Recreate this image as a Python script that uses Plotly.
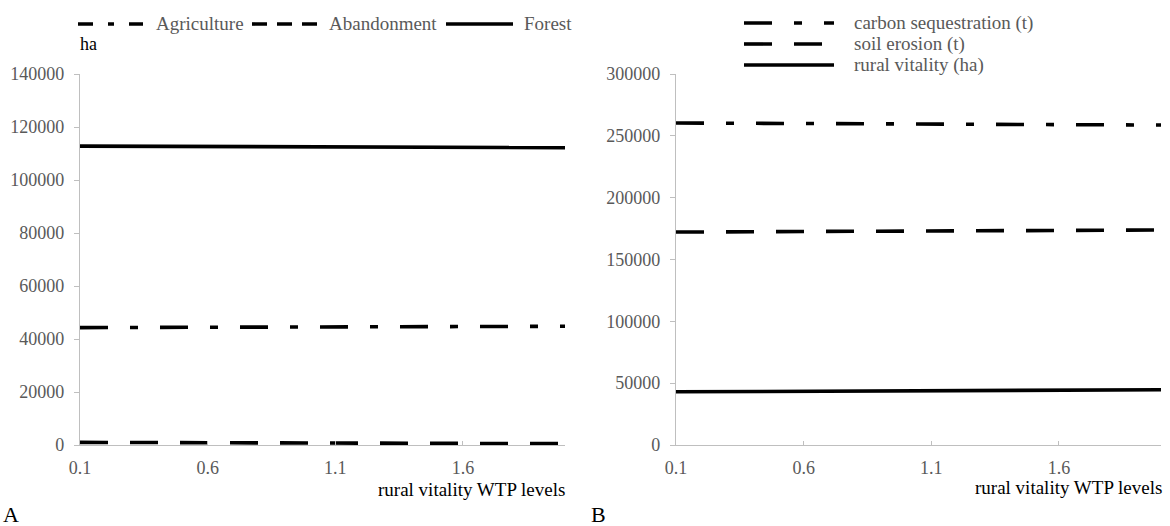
import plotly.graph_objects as go

# ---------------- data ----------------
wtp_levels = [round(0.1 * i, 1) for i in range(1, 21)]  # 0.1 ... 2.0
x_tick_vals = [0.1, 0.6, 1.1, 1.6]
x_tick_text = ["0.1", "0.6", "1.1", "1.6"]

agriculture = [44300, 44330, 44350, 44380, 44400, 44430, 44460, 44480, 44510, 44540,
               44560, 44590, 44620, 44640, 44670, 44700, 44720, 44750, 44770, 44800]
abandonment = [1000, 980, 950, 920, 900, 870, 840, 820, 790, 760,
               740, 710, 680, 660, 630, 600, 580, 550, 520, 500]
forest = [112800, 112770, 112740, 112700, 112670, 112640, 112610, 112580, 112550, 112520,
          112480, 112450, 112420, 112390, 112360, 112330, 112300, 112260, 112230, 112200]

carbon_seq = [260400, 260310, 260220, 260130, 260040, 259950, 259860, 259780, 259690, 259600,
              259510, 259420, 259330, 259240, 259150, 259060, 258970, 258880, 258790, 258700]
soil_erosion = [172200, 172290, 172370, 172460, 172550, 172630, 172720, 172810, 172900, 172980,
                173070, 173160, 173240, 173330, 173420, 173500, 173590, 173680, 173760, 173850]
rural_vitality = [43000, 43090, 43180, 43270, 43360, 43450, 43540, 43630, 43720, 43810,
                  43890, 43980, 44070, 44160, 44250, 44340, 44430, 44520, 44610, 44700]

left_names = ["Agriculture", "Abandonment", "Forest"]
right_names = ["carbon sequestration (t)", "soil erosion (t)", "rural vitality (ha)"]

# ---------------- styles ----------------
FONT = "Liberation Serif, Times New Roman, Times, serif"
GREY_TXT = "#595959"
AXIS_COL = "#BFBFBF"
LW = 3.6
DASH_DOT = "28px,22px,8px,22px"
DASH_LONG = "28px,22px"
LEG_DASH_DOT_L = "15px,15px,6px,15px"
LEG_DASH_L = "15px,10px"

fig = go.Figure()

left_series = [(agriculture, DASH_DOT), (abandonment, DASH_LONG), (forest, "solid")]
right_series = [(carbon_seq, DASH_DOT), (soil_erosion, DASH_LONG), (rural_vitality, "solid")]

for (vals, dash), name in zip(left_series, left_names):
    fig.add_trace(go.Scatter(x=wtp_levels, y=vals, mode="lines", name=name,
                             line=dict(color="black", width=LW, dash=dash),
                             xaxis="x", yaxis="y", showlegend=False))
for (vals, dash), name in zip(right_series, right_names):
    fig.add_trace(go.Scatter(x=wtp_levels, y=vals, mode="lines", name=name,
                             line=dict(color="black", width=LW, dash=dash),
                             xaxis="x2", yaxis="y2", showlegend=False))

W, H = 1170, 526
def px(v): return v / W
def py(v): return 1 - v / H

common_x = dict(range=[0.1, 2.0], tickvals=x_tick_vals, ticktext=x_tick_text, automargin=False,
                showline=True, linecolor=AXIS_COL, linewidth=1.4, showgrid=False, zeroline=False,
                ticks="inside", ticklen=4, tickcolor=AXIS_COL, ticklabelstandoff=6,
                tickfont=dict(family=FONT, size=18, color=GREY_TXT))
common_y = dict(showline=True, linecolor=AXIS_COL, linewidth=1.4, showgrid=False, zeroline=False,
                ticks="outside", ticklen=5, tickcolor=AXIS_COL, automargin=False,
                ticklabelstandoff=6,
                tickfont=dict(family=FONT, size=18, color=GREY_TXT), tickformat="d")

TOP, BOT = 74, 445
fig.update_layout(
    width=W, height=H, margin=dict(l=0, r=0, t=0, b=0, autoexpand=False),
    paper_bgcolor="white", plot_bgcolor="white",
    xaxis=dict(domain=[px(80), px(565)], anchor="y", **common_x),
    yaxis=dict(domain=[py(BOT), py(TOP)], anchor="x", range=[0, 140000], dtick=20000, **common_y),
    xaxis2=dict(domain=[px(676), px(1161)], anchor="y2", **common_x),
    yaxis2=dict(domain=[py(BOT), py(TOP)], anchor="x2", range=[0, 300000], dtick=50000, **common_y),
    font=dict(family=FONT),
)

shapes = []
annots = []
# left legend (horizontal)
left_leg = [(78, 143, 154, LEG_DASH_DOT_L), (252, 318, 327, LEG_DASH_L), (446, 513, 522, "solid")]
for (x0, x1, tx, dash), name in zip(left_leg, left_names):
    shapes.append(dict(type="line", xref="paper", yref="paper", x0=px(x0), x1=px(x1),
                       y0=py(24), y1=py(24), line=dict(color="black", width=LW, dash=dash)))
    annots.append(dict(xref="paper", yref="paper", x=px(tx), y=py(24), text=name, showarrow=False,
                       xanchor="left", yanchor="middle",
                       font=dict(family=FONT, size=19, color=GREY_TXT)))
# right legend (vertical)
right_leg_y = [23, 44, 65]
right_leg_dash = [DASH_DOT, DASH_LONG, "solid"]
for yy, dash, name in zip(right_leg_y, right_leg_dash, right_names):
    shapes.append(dict(type="line", xref="paper", yref="paper", x0=px(744), x1=px(834),
                       y0=py(yy), y1=py(yy), line=dict(color="black", width=LW, dash=dash)))
    annots.append(dict(xref="paper", yref="paper", x=px(852), y=py(yy), text=name, showarrow=False,
                       xanchor="left", yanchor="middle",
                       font=dict(family=FONT, size=19, color=GREY_TXT)))

annots += [
    dict(xref="paper", yref="paper", x=px(78), y=py(44), text="ha", showarrow=False,
         xanchor="left", yanchor="middle", font=dict(family=FONT, size=18, color="black")),
    dict(xref="paper", yref="paper", x=px(567), y=py(489), text="rural vitality WTP levels",
         showarrow=False, xanchor="right", yanchor="middle", font=dict(family=FONT, size=19, color="black")),
    dict(xref="paper", yref="paper", x=px(1164), y=py(487), text="rural vitality WTP levels",
         showarrow=False, xanchor="right", yanchor="middle", font=dict(family=FONT, size=19, color="black")),
    dict(xref="paper", yref="paper", x=px(1), y=py(514), text="A", showarrow=False,
         xanchor="left", yanchor="middle", font=dict(family=FONT, size=22, color="black")),
    dict(xref="paper", yref="paper", x=px(589), y=py(514), text="B", showarrow=False,
         xanchor="left", yanchor="middle", font=dict(family=FONT, size=22, color="black")),
]
fig.update_layout(shapes=shapes, annotations=annots)

fig.write_html("out.html", config={"displayModeBar": False},
               post_script="document.body.style.margin='0';")
